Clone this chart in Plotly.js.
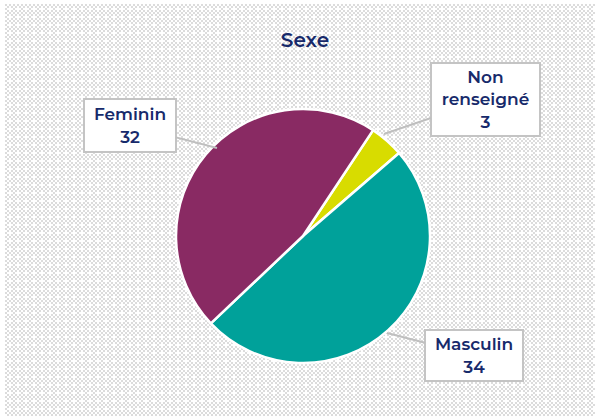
<!DOCTYPE html>
<html>
<head>
<meta charset="utf-8">
<script src="https://cdn.plot.ly/plotly-3.0.1.min.js"></script>
<style>
  html, body { margin: 0; padding: 0; background: #ffffff; }
  #wrap {
    position: absolute; left: 5px; top: 4px; width: 590px; height: 412px;
    background-image: url("data:image/svg+xml;utf8,<svg xmlns='http://www.w3.org/2000/svg' width='8' height='8'><rect width='8' height='8' fill='white'/><path fill='%23dcdcdc' d='M0 0h2v2H0zM4 0h2v2H4zM2 2h2v2H2zM6 2h2v2H6zM0 4h2v2H0zM2 6h2v2H2zM6 6h2v2H6z'/></svg>");
    background-size: 8px 8px;
  }
  #chart { position: absolute; left: 0; top: 0; width: 595px; height: 416px; }
</style>
</head>
<body>
<div id="wrap"></div>
<div id="chart"></div>
<script>
const labels = ['Non renseigné', 'Masculin', 'Feminin'];
const values = [3, 34, 32];
const colors = ['#d8dc00', '#00a19a', '#892a63'];
const chartTitle = 'Sexe';

const navy = '#172a6b';
const labelFont = { family: 'Montserrat, Inter, "Open Sans", sans-serif', size: 17, color: navy, weight: 600 };

const trace = {
  type: 'pie',
  labels: labels,
  values: values,
  sort: false,
  direction: 'clockwise',
  rotation: 33.5,
  marker: { colors: colors, line: { color: '#ffffff', width: 2.5 } },
  textinfo: 'none',
  hoverinfo: 'label+value',
  showlegend: false,
  domain: { x: [0.2958, 0.7227], y: [0.1274, 0.738] }
};

// label box placement (layout only)
const boxes = {
  'Non renseigné': { x: 384 / 595, y: 1 - 134 / 416, ax: 101.5, ay: -34.5, w: 107, h: 71 },
  'Masculin':      { x: 387 / 595, y: 1 - 333 / 416, ax: 87, ay: 22.5, w: 96, h: 49 },
  'Feminin':       { x: 217 / 595, y: 1 - 148 / 416, ax: -87, ay: -22.5, w: 90, h: 51 }
};

const annotations = labels.map((lab, i) => {
  const b = boxes[lab];
  const txt = (lab === 'Non renseigné' ? 'Non<br>renseigné' : lab) + '<br>' + values[i];
  return {
    xref: 'paper', yref: 'paper', x: b.x, y: b.y,
    ax: b.ax, ay: b.ay, showarrow: true, arrowhead: 0, arrowwidth: 2, arrowcolor: '#bfbfbf',
    text: txt, font: labelFont, align: 'center',
    bgcolor: '#ffffff', bordercolor: '#c4c4c4', borderwidth: 2, borderpad: 0,
    width: b.w, height: b.h
  };
});

const layout = {
  width: 595, height: 416,
  margin: { l: 0, r: 0, t: 0, b: 0 },
  paper_bgcolor: 'rgba(0,0,0,0)',
  plot_bgcolor: 'rgba(0,0,0,0)',
  title: {
    text: chartTitle,
    x: 305 / 595, xanchor: 'center',
    y: 1 - 40 / 416, yanchor: 'middle', yref: 'container',
    font: { family: 'Montserrat, Inter, "Open Sans", sans-serif', size: 20, color: navy, weight: 600 }
  },
  annotations: annotations
};

Plotly.newPlot('chart', [trace], layout, { displayModeBar: false, staticPlot: true });
</script>
</body>
</html>
